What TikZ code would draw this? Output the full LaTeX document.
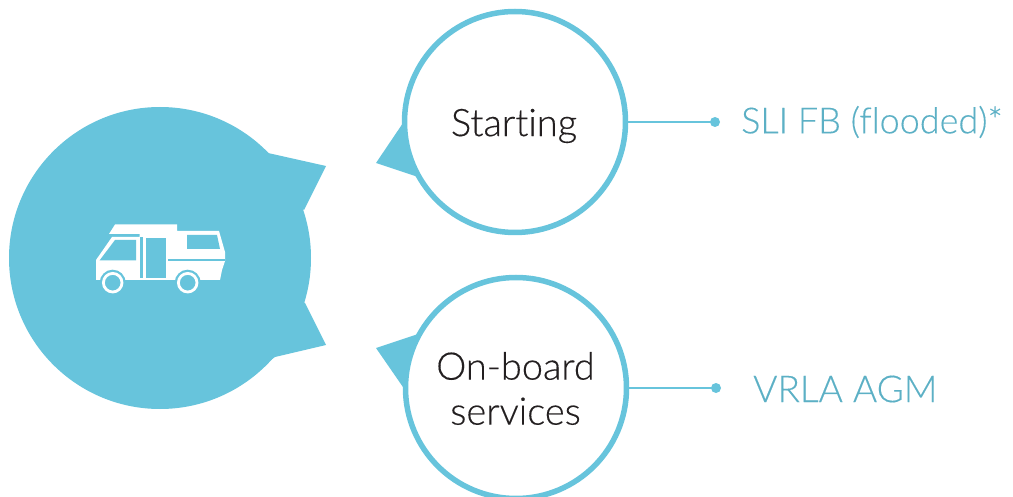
\documentclass[tikz,border=0pt]{standalone}
\usepackage{fontspec}
\newfontfamily\lightfont{Lato Light}[Ligatures=NoCommon,FakeBold=0.3]
\definecolor{bl}{HTML}{67C4DC}
\definecolor{tl}{HTML}{5CB0C5}
\definecolor{dk}{HTML}{231F20}
\tikzset{
  ring/.style={circle,draw=bl,line width=5.5pt,fill=white,minimum size=221pt,inner sep=0pt},
  ringtext/.style={text=dk,font=\lightfont\fontsize{38pt}{45pt}\selectfont,align=center,inner sep=0pt},
  dotm/.style={circle,fill=bl,minimum size=10pt,inner sep=0pt},
  lbl/.style={text=tl,font=\lightfont\fontsize{36pt}{40pt}\selectfont,inner sep=0pt},
  lblb/.style={text=tl,font=\lightfont\fontsize{37pt}{40pt}\selectfont,inner sep=0pt},
  link/.style={draw=bl,line width=2pt},
  blob/.style={fill=bl,draw=none}
}
\begin{document}
\begin{tikzpicture}[x=1pt,y=-1pt]
\useasboundingbox (0,0) rectangle (1013,497);
% large disc with spikes
\fill[blob] (160,258) circle (151);
\fill[blob] (250,140) -- (268,153) -- (326,166) -- (304,210) -- (290,200) -- cycle;
\fill[blob] (305,303) -- (326,345) -- (275,357) -- (250,375) -- (270,280) -- cycle;
% truck
\fill[white] (109,234) -- (115,224.5) -- (177,224.5) -- (177,231) -- (219,231) -- (225,252) -- (225,261) -- (222,270) -- (220,280) -- (96,280) -- (96,260) -- (112,237) -- (139.5,237) -- (139.5,234) -- cycle;
\fill[bl] (115,240) -- (136,240) -- (136,260.5) -- (99.5,260.5) -- cycle;
\fill[bl] (146,238) rectangle (166,278);
\fill[bl] (187,235) -- (217,235) -- (220,249) -- (187,249) -- cycle;
\fill[bl] (139.5,237) rectangle (142.5,278);
\fill[bl] (168,259.5) rectangle (225,261.5);
\fill[bl] (112.7,282.7) circle (13);
\fill[bl] (187.7,282.7) circle (13);
\draw[white,line width=2.8pt] (112.7,282.7) circle (9.3);
\draw[white,line width=2.8pt] (187.7,282.7) circle (9.3);
% top node
\node[ring] (start) at (515,122) {};
\node[ringtext] (startt) at (514,126) {Starting};
\fill[blob] (405,120) -- (376,163) -- (418,177) .. controls (410,160) and (406,140) .. (405,120) -- cycle;
\node[dotm] (d1) at (715,122) {};
\draw[link] (start.east) -- (d1.center);
\node[lbl,anchor=west] (t1) at (741,122) {SLI FB (flooded)*};
% bottom node
\node[ring] (board) at (516,388) {};
\node[ringtext] (boardt) at (515.5,388.5) {On-board\\services};
\fill[blob] (405,390) -- (376,348) -- (418,334) .. controls (410,350) and (406,370) .. (405,390) -- cycle;
\node[dotm] (d2) at (716,388) {};
\draw[link] (board.east) -- (d2.center);
\node[lblb,anchor=west] (t2) at (753,389) {VRLA AGM};
\end{tikzpicture}
\end{document}
